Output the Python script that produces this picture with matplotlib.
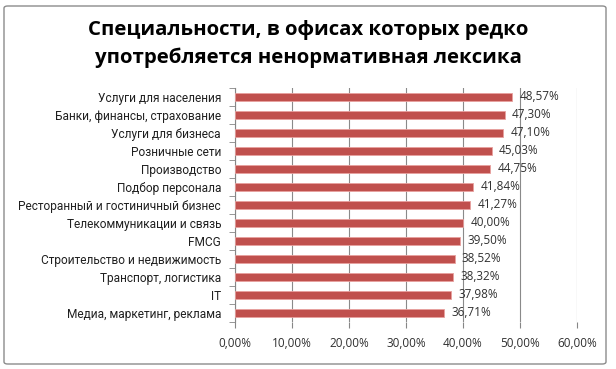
import matplotlib.pyplot as plt
import numpy as np
from matplotlib.patches import FancyBboxPatch

# ==== данные ====
categories = ["Услуги для населения", "Банки, финансы, страхование", "Услуги для бизнеса",
              "Розничные сети", "Производство", "Подбор персонала",
              "Ресторанный и гостиничный бизнес", "Телекоммуникации и связь", "FMCG",
              "Строительство и недвижимость", "Транспорт, логистика", "IT",
              "Медиа, маркетинг, реклама"]
values = [48.57, 47.30, 47.10, 45.03, 44.75, 41.84, 41.27, 40.00, 39.50, 38.52, 38.32, 37.98, 36.71]
xticks = [0, 10, 20, 30, 40, 50, 60]

plt.rcParams['font.family'] = ['Open Sans', 'DejaVu Sans']

fig = plt.figure(figsize=(6.16, 3.69), dpi=100)
fig.patch.set_facecolor('white')

# рамка диаграммы
frame = FancyBboxPatch((4/616, 5/369), 602/616, 358/369, boxstyle="round,pad=0,rounding_size=0.006",
                       transform=fig.transFigure, facecolor='white', edgecolor='#8c8c8c', lw=1.0,
                       zorder=-5)
fig.patches.append(frame)

ax = fig.add_axes([235/616, 1 - 322/369, 342/616, (322 - 88)/369])
ax.set_zorder(2)
ax.patch.set_alpha(0)
y = np.arange(len(categories))
ax.barh(y, values, height=0.45, color='#c0504d', edgecolor='#e8a09e', lw=0.6, zorder=3)

for yi, v in zip(y, values):
    ax.text(v + 1.3, yi, "{:.2f}%".format(v).replace('.', ','), va='center', ha='left',
            fontsize=8.5, color='#303030', zorder=4)

ax.set_xlim(0, 60)
ax.set_ylim(len(categories) - 0.5, -0.5)
ax.set_xticks(xticks)
ax.set_xticklabels(["{:.2f}%".format(t).replace('.', ',') for t in xticks], fontsize=8.5, color='#303030')
ax.set_yticks(y)
ax.set_yticklabels(categories, fontsize=8.6, color='#202020', family=['Roboto', 'DejaVu Sans'])
ax.set_yticks(np.arange(len(categories) + 1) - 0.5, minor=True)
ax.tick_params(axis='y', which='major', length=0, pad=10)
ax.tick_params(axis='y', which='minor', length=4, color='#868686', direction='out')
ax.tick_params(axis='x', length=4, color='#868686', pad=7)
ax.grid(axis='x', color='#8a8a8a', lw=0.8, zorder=0)
for s in ['top', 'right', 'bottom']:
    ax.spines[s].set_visible(False)
ax.spines['left'].set_color('#868686')

fig.text(0.5, 1 - 30/369, "Специальности, в офисах которых редко", ha='center', va='center',
         fontsize=14.7, fontweight='bold', color='black')
fig.text(0.5, 1 - 58/369, "употребляется ненормативная лексика", ha='center', va='center',
         fontsize=14.7, fontweight='bold', color='black')

fig.savefig('out.png', dpi=100)
